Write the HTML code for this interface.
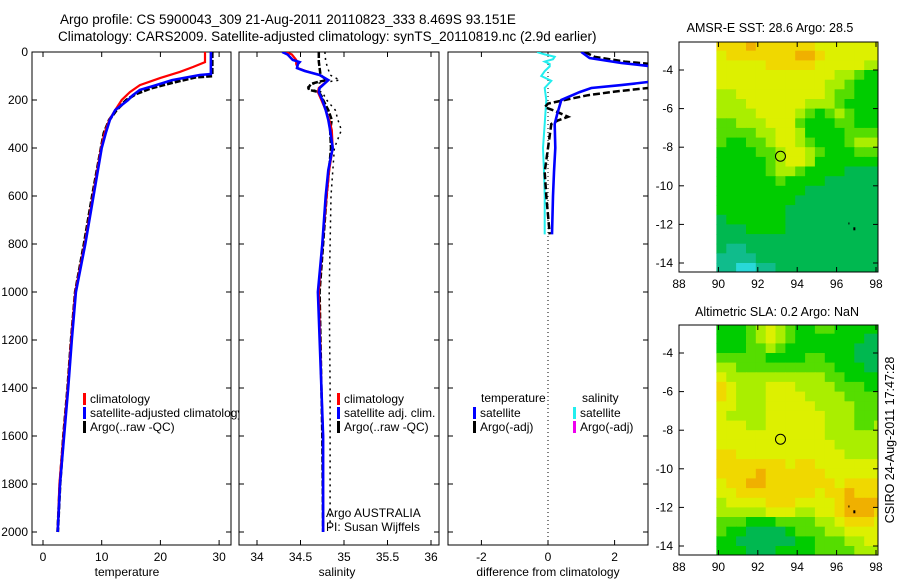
<!DOCTYPE html>
<html><head><meta charset="utf-8">
<style>
html,body{margin:0;padding:0;background:#fff;}
svg{display:block;font-family:"Liberation Sans",sans-serif;}
text{font-size:12px;fill:#000;}
</style></head>
<body>
<svg id="fig" width="900" height="580" viewBox="0 0 900 580" xmlns="http://www.w3.org/2000/svg">
<text x="60" y="24" style="font-size:13.5px">Argo profile: CS 5900043_309 21-Aug-2011 20110823_333 8.469S 93.151E</text>
<text x="58" y="41" style="font-size:13.5px">Climatology: CARS2009. Satellite-adjusted climatology: synTS_20110819.nc (2.9d earlier)</text>
<text x="770" y="32" text-anchor="middle" style="font-size:12.5px">AMSR-E SST: 28.6 Argo: 28.5</text>
<text x="777" y="316" text-anchor="middle" style="font-size:12.5px">Altimetric SLA: 0.2 Argo: NaN</text>
<text transform="translate(894,440) rotate(-90)" text-anchor="middle" style="font-size:12.5px">CSIRO 24-Aug-2011 17:47:28</text>
<g id="plots"></g>
</svg>
<script>
// ---------- DATA ----------
const tempClimDepth = [0,42,62,83,108,138,167,200,242,283,337,400,600,800,1000,1200,1400,1600,1800,2000];
const tempClim      = [27.6,27.6,25.6,23.3,20,16.5,14.8,13.4,12.3,11.3,10.5,9.9,8.5,7.1,5.5,4.8,4.2,3.5,2.8,2.5];
const tempSatDepth  = [0,92,96,117,140,158,180,200,242,283,337,400,600,800,1000,1200,1400,1600,1800,2000];
const tempSat       = [28.6,28.6,26.7,22,19,16.5,15.3,14.5,12.3,11.4,10.7,10,8.6,7.2,5.6,4.9,4.3,3.6,2.9,2.5];
const tempArgoDepth = [0,100,105,125,150,175,200,242,283,337,400,600,800,1000,1200,1400,1600,1800,2000];
const tempArgo      = [28.8,28.8,26,22.5,18.5,15.8,14.2,12.5,11.3,10.4,9.9,8.4,7.0,5.5,4.8,4.2,3.5,2.9,2.5];

const salDepth = [0,10,33,42,50,67,79,96,117,150,167,200,242,283,325,400,492,600,800,1000,1400,1600,2000];
const salClim  = [34.33,34.4,34.45,34.45,34.45,34.47,34.56,34.72,34.82,34.71,34.7,34.74,34.79,34.83,34.86,34.87,34.83,34.8,34.75,34.71,34.74,34.76,34.76];
const salSat   = [34.29,34.35,34.41,34.49,34.47,34.46,34.55,34.72,34.82,34.72,34.71,34.75,34.79,34.82,34.84,34.87,34.82,34.79,34.75,34.70,34.74,34.76,34.76];
const salArgoDepth = [0,40,96,117,125,133,150,158,167,183,200,242,283,325,400,600,800,1000,1400,1600,2000];
const salArgo      = [34.71,34.71,34.73,34.8,34.7,34.62,34.59,34.6,34.71,34.74,34.76,34.82,34.86,34.84,34.85,34.8,34.76,34.72,34.74,34.75,34.76];
const salRawDepth  = [0,40,96,117,133,150,167,200,242,283,325,400,600,800,1000,1400,2000];
const salRaw       = [34.78,34.79,34.84,34.95,34.65,34.56,34.75,34.8,34.9,34.93,34.97,34.89,34.85,34.84,34.83,34.84,34.84];

const diffTSatDepth = [0,25,46,58,70,110,125,138,150,167,200,262,300,400,500,600,760];
const diffTSat      = [1.0,1.25,2.2,3.0,3.6,3.6,3.0,2.2,1.3,0.95,0.4,0.27,0.2,0.22,0.18,0.15,0.12];
const diffTArgoDepth = [0,20,40,55,70,120,150,165,180,200,215,230,245,270,285,300,400,500,600,760];
const diffTArgo      = [1.1,1.4,2.3,3.5,3.8,3.8,3.0,2.0,1.2,0.5,0.0,-0.1,0.2,0.6,0.3,0.1,0.0,-0.1,-0.05,0.05];
const diffSSatDepth = [0,10,20,30,40,50,60,80,100,120,150,200,300,400,500,600,760];
const diffSSat      = [-0.33,-0.1,0.2,0.15,-0.1,0.05,0.05,-0.1,-0.2,0.1,-0.1,-0.05,-0.1,-0.15,-0.12,-0.1,-0.1];

const tempTicks = [0,10,20,30];
const salTicks = [34,34.5,35,35.5,36];
const salTickLabels = ["34","34.5","35","35.5","36"];
const diffTicks = [-2,0,2];
const depthTicks = [0,200,400,600,800,1000,1200,1400,1600,1800,2000];
const lonTicks = [88,90,92,94,96,98];
const latTicks = [-4,-6,-8,-10,-12,-14];

// map grids: rows lat -2.75 .. -14.25 (step -0.5), cols lon 90.15 .. 98.15 (step 0.5)
const sstGrid = [
[7,7,7,8,7,7,7,7,7,7,6,6,6,6,6,6,6],
[6,7,7,7,7,7,7,7,8,8,7,6,6,6,6,6,6],
[6,6,6,6,6,7,7,7,7,7,6,6,6,6,6,5,5],
[6,6,6,6,6,6,6,6,6,6,6,6,5,5,4,3,3],
[6,6,6,6,6,6,6,6,6,6,6,5,5,4,3,3,3],
[5,5,6,6,6,6,6,6,6,6,6,5,4,4,3,3,3],
[5,5,5,6,6,6,6,6,6,5,5,5,4,3,3,3,3],
[5,5,5,5,6,6,6,6,5,4,3,4,5,4,3,3,3],
[4,4,5,5,5,6,6,6,4,3,3,3,4,4,3,3,3],
[4,4,4,4,5,5,6,6,5,3,3,3,3,4,4,4,4],
[4,3,3,4,4,5,6,6,5,4,3,3,3,4,5,5,5],
[3,3,3,3,4,4,5,6,6,5,4,3,3,3,4,4,4],
[3,3,3,3,3,4,5,6,6,5,3,3,3,3,3,3,3],
[3,3,3,3,3,4,5,5,4,3,3,3,3,2,2,2,2],
[3,3,3,3,3,3,4,3,3,3,3,2,2,2,2,2,2],
[3,3,3,3,3,3,3,3,3,2,2,2,2,2,2,2,2],
[3,3,3,3,3,3,3,3,2,2,2,2,2,2,2,2,2],
[3,3,3,3,3,3,3,2,2,2,2,2,2,2,2,2,2],
[2,3,3,3,3,3,3,2,2,2,2,2,2,2,2,2,2],
[2,2,2,3,3,3,3,2,2,2,2,2,2,2,2,2,2],
[2,2,2,2,2,2,2,2,2,2,2,2,2,2,2,2,2],
[2,1,1,2,2,2,2,2,2,2,2,2,2,2,2,2,2],
[1,1,1,1,2,2,2,2,2,2,2,2,2,2,2,2,2],
[1,1,0,0,1,1,2,2,2,2,2,2,2,2,2,2,2]];
const slaGrid = [
[3,3,3,4,5,6,5,4,3,3,4,4,3,3,3,3,3],
[3,3,3,4,5,6,5,4,3,3,3,3,3,3,3,2,2],
[3,3,3,4,4,5,4,3,3,3,3,3,3,3,2,2,2],
[4,4,4,4,4,3,3,3,3,4,4,3,3,3,2,2,2],
[5,5,4,4,4,4,4,4,4,4,4,4,3,3,3,2,2],
[6,5,5,5,5,5,5,5,5,5,5,4,4,3,3,3,3],
[7,6,5,5,5,6,6,6,5,5,5,5,4,4,4,3,3],
[7,6,5,5,5,6,6,6,6,5,5,5,5,4,4,4,4],
[6,6,5,5,5,6,6,6,6,6,5,5,5,5,4,4,4],
[6,5,5,5,5,6,6,6,6,6,6,5,5,5,4,4,4],
[6,6,6,5,5,6,6,6,6,6,6,5,5,5,4,4,5],
[6,6,6,6,6,6,6,6,6,6,6,5,5,5,5,5,5],
[6,6,6,6,6,6,6,6,6,6,6,6,5,5,5,5,5],
[7,7,6,6,6,6,6,6,6,6,6,6,6,5,5,5,5],
[7,7,7,7,7,7,7,6,7,7,6,6,6,6,6,6,6],
[7,7,7,7,8,7,7,7,7,7,7,6,6,6,6,6,6],
[6,7,7,8,8,7,7,7,7,7,7,7,6,7,7,7,7],
[6,6,7,7,7,7,7,7,7,7,6,7,7,8,7,7,7],
[5,6,6,6,6,7,7,7,6,6,6,6,7,8,8,8,8],
[5,5,5,5,5,6,6,6,5,5,6,6,7,8,8,8,7],
[4,4,4,3,3,3,4,4,4,4,5,5,6,7,7,7,6],
[4,3,3,2,2,2,2,3,4,4,4,5,5,6,6,6,6],
[3,3,2,2,2,2,2,2,3,3,4,4,4,5,5,6,6],
[3,3,3,2,2,2,3,3,3,3,4,4,4,4,5,5,5]];
const argoLon = 93.151, argoLat = -8.469;

// ---------- DRAWING ----------
const NS="http://www.w3.org/2000/svg";
const root=document.getElementById('plots');
function mk(tag,attrs,parent){const e=document.createElementNS(NS,tag);for(const k in attrs)e.setAttribute(k,attrs[k]);(parent||root).appendChild(e);return e;}
const yD = d => 52 + d*0.24;
const xT = t => 43 + t*5.87;
const xS = s => 257 + (s-34)*87;
const xDf = v => 548 + v*33.3;

function clip(id,x,y,w,h){const c=mk('clipPath',{id:id});mk('rect',{x:x,y:y,width:w,height:h},c);}
clip('c1',32,52,199,493);clip('c2',239,52,200,493);clip('c3',448,52,200,493);
clip('m1',679,42,199,230);clip('m2',679,325,199,230);

function line(xs,ds,fx,color,w,dash,cp,name){
  let p='';for(let i=0;i<xs.length;i++)p+=(i?'L':'M')+fx(xs[i]).toFixed(1)+','+yD(ds[i]).toFixed(1);
  const e=mk('path',{d:p,fill:'none',stroke:color,'stroke-width':w,'clip-path':'url(#'+cp+')'});
  if(dash)e.setAttribute('stroke-dasharray',dash);
  
  
}
function panel(x0,x1,name){
  const r=mk('rect',{x:x0,y:52,width:x1-x0,height:493,fill:'#fff',stroke:'#000','stroke-width':1});
  
  
  depthTicks.forEach(d=>{
    mk('line',{x1:x0,x2:x0+5,y1:yD(d),y2:yD(d),stroke:'#000'});
    mk('line',{x1:x1,x2:x1-5,y1:yD(d),y2:yD(d),stroke:'#000'});
  });
}
function xticks(vals,labels,fx,label,cx,name){
  vals.forEach((v,i)=>{
    const x=fx(v);
    mk('line',{x1:x,x2:x,y1:545,y2:540,stroke:'#000'});
    mk('line',{x1:x,x2:x,y1:52,y2:57,stroke:'#000'});
    const t=mk('text',{x:x,y:561,'text-anchor':'middle'});t.textContent=labels[i];
    
    
  });
  const t=mk('text',{x:cx,y:576,'text-anchor':'middle'});t.textContent=label;
  
  
}
function legend(x,y,color,label,name){
  mk('rect',{x:x,y:y-10,width:3,height:12,fill:color});
  const t=mk('text',{x:x+7,y:y});t.textContent=label;
  
  
}

// Panel 1: temperature
panel(32,231,'temperature-panel');
depthTicks.forEach(d=>{const t=mk('text',{x:28,y:yD(d)+4,'text-anchor':'end'});t.textContent=d;
  
  });
xticks(tempTicks,tempTicks.map(String),xT,'temperature',127,'temperature-axis-title');
line(tempArgo,tempArgoDepth,xT,'#000',3,'6,2','c1','temp-argo-line');
line(tempClim,tempClimDepth,xT,'#f00',2.2,null,'c1','temp-climatology-line');
line(tempSat,tempSatDepth,xT,'#00f',2.6,null,'c1','temp-satellite-line');
legend(83,403,'#f00','climatology','legend-climatology');
legend(83,417,'#00f','satellite-adjusted climatology','legend-satellite-adjusted');
legend(83,431,'#000','Argo(..raw -QC)','legend-argo');

// Panel 2: salinity
panel(239,439,'salinity-panel');
xticks(salTicks,salTickLabels,xS,'salinity',337,'salinity-axis-title');
line(salRaw,salRawDepth,xS,'#000',1.5,'2,4','c2','sal-argo-raw-dotted');
line(salArgo,salArgoDepth,xS,'#000',2.5,'6,2','c2','sal-argo-line');
line(salClim,salDepth,xS,'#f00',2.2,null,'c2','sal-climatology-line');
line(salSat,salDepth,xS,'#00f',2.6,null,'c2','sal-satellite-line');
legend(337,403,'#f00','climatology','sal-legend-climatology');
legend(337,417,'#00f','satellite adj. clim.','sal-legend-satellite');
legend(337,431,'#000','Argo(..raw -QC)','sal-legend-argo');
[['Argo AUSTRALIA',517],['PI: Susan Wijffels',531]].forEach(a=>{const t=mk('text',{x:326,y:a[1]});t.textContent=a[0];
  
  });

// Panel 3: differences
panel(448,648,'difference-panel');
mk('line',{x1:xDf(0),x2:xDf(0),y1:52,y2:545,stroke:'#000','stroke-dasharray':'1,3'});
xticks(diffTicks,diffTicks.map(String),xDf,'difference from climatology',548,'difference-axis-title');
line(diffSSat,diffSSatDepth,xDf,'#2ee',2,null,'c3','diff-salinity-satellite-line');
line(diffTArgo,diffTArgoDepth,xDf,'#000',2.5,'7,3','c3','diff-temp-argo-line');
line(diffTSat,diffTSatDepth,xDf,'#00f',2.6,null,'c3','diff-temp-satellite-line');
(function(){const t=mk('text',{x:481,y:402});t.textContent='temperature';
  
  
  const s=mk('text',{x:582,y:402});s.textContent='salinity';
  
  })();
legend(473,417,'#00f','satellite','diff-legend-temp-satellite');
legend(473,431,'#000','Argo(-adj)','diff-legend-temp-argo');
legend(573,417,'#2ee','satellite','diff-legend-sal-satellite');
legend(573,431,'#e0e','Argo(-adj)','diff-legend-sal-argo');

// Maps
const pal=['#28d8d8','#10bc8c','#00b850','#00cc00','#55dd00','#aaee00','#ddf000','#f0d800','#f0b000'];
function drawMap(grid,top,cp,name){
  const xL=l=>679+(l-88)*19.7;
  const yL=la=>top+28+(-4-la)*19.3;
  const g=mk('g',{'clip-path':'url(#'+cp+')'});
  
  
  grid.forEach((row,r)=>row.forEach((v,c)=>{
    const lon0=89.9+0.5*c, lat0=-2.5-0.5*r;
    const x=xL(lon0), y=yL(lat0);
    const cell=mk('rect',{x:x.toFixed(1),y:y.toFixed(1),width:(0.5*19.7+0.6).toFixed(1),height:(0.5*19.3+0.6).toFixed(1),fill:pal[v]},g);
    
    
  }));
  const b=mk('rect',{x:679,y:top,width:199,height:230,fill:'none',stroke:'#000'});
  
  
  lonTicks.forEach(l=>{const x=xL(l);
    mk('line',{x1:x,x2:x,y1:top+230,y2:top+225,stroke:'#000'});
    mk('line',{x1:x,x2:x,y1:top,y2:top+5,stroke:'#000'});
    const t=mk('text',{x:x,y:top+246,'text-anchor':'middle'});t.textContent=l;
    
    });
  latTicks.forEach(la=>{const y=yL(la);
    mk('line',{x1:679,x2:684,y1:y,y2:y,stroke:'#000'});
    mk('line',{x1:878,x2:873,y1:y,y2:y,stroke:'#000'});
    const t=mk('text',{x:673,y:y+4,'text-anchor':'end'});t.textContent=la;
    
    });
  const c=mk('circle',{cx:xL(argoLon),cy:yL(argoLat),r:5,fill:'none',stroke:'#000'});
  
  
  mk('rect',{x:xL(96.85),y:yL(-12.15),width:2,height:3,fill:'#000'});
  mk('rect',{x:xL(96.6),y:yL(-11.9),width:1,height:2,fill:'#000'});
}
drawMap(sstGrid,42,'m1','sst-map');
drawMap(slaGrid,325,'m2','sla-map');
</script>
</body></html>
